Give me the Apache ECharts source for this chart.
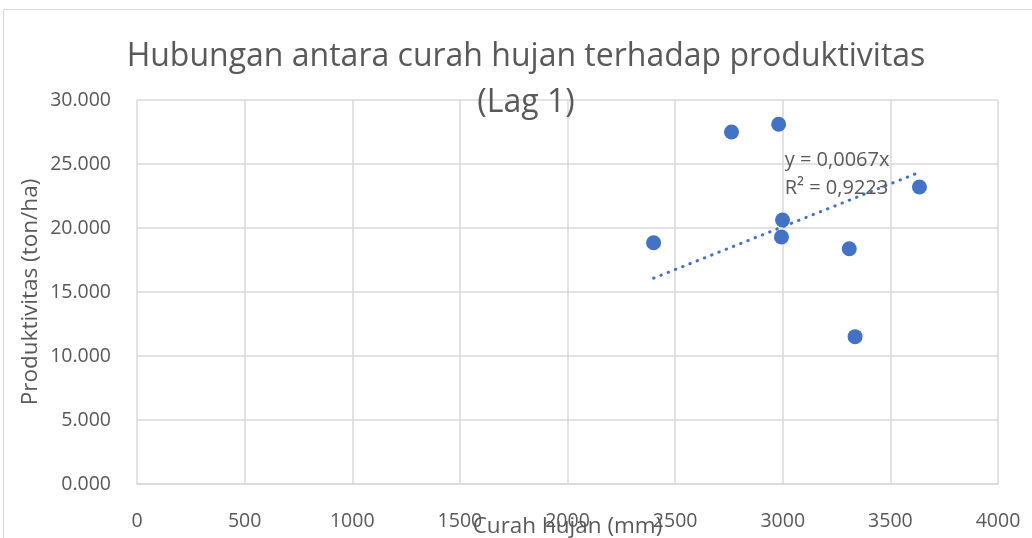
<!DOCTYPE html>
<html>
<head>
<meta charset="utf-8">
<script src="https://cdn.jsdelivr.net/npm/echarts@6/dist/echarts.min.js"></script>
<style>html,body{margin:0;padding:0;background:#fff;}#c{width:1032px;height:538px;}</style>
</head>
<body>
<div id="c"></div>
<script>
const titleLines = ['Hubungan antara curah hujan terhadap produktivitas', '(Lag 1)'];
const xName = 'Curah hujan (mm)';
const yName = 'Produktivitas (ton/ha)';
const rainfall = [2400, 2762, 2981, 2999, 2994, 3309, 3336, 3635];
const productivity = [18.85, 27.50, 28.10, 20.63, 19.30, 18.38, 11.51, 23.20];
const trendSlope = 0.0067;
const trendLabel = ['y = 0,0067x', 'R² = 0,9223'];
const xMin = 0, xMax = 4000, xStep = 500;
const yMin = 0, yMax = 30, yStep = 5;

const FONT = 'Open Sans';
const GRAY = '#595959';
const BLUE = '#4472C4';

const xs = rainfall.slice().sort((a,b)=>a-b);
const trendData = [[xs[0], trendSlope*xs[0]], [xs[xs.length-1], trendSlope*xs[xs.length-1]]];

const chart = echarts.init(document.getElementById('c'), null, {renderer:'canvas'});
const border = {type: 'rect', shape: {x: 3.5, y: 9.5, width: 1100, height: 600}, style: {fill: 'none', stroke: '#d9d9d9', lineWidth: 1}, z: -1};
const option = {
  animation: false,
  backgroundColor: '#fff',
  title: {
    text: titleLines.join('\n'),
    left: 521, top: 29, textAlign: 'center',
    textStyle: {fontFamily: FONT, fontSize: 32, fontWeight: 'normal', color: GRAY, lineHeight: 46}
  },
  grid: {left: 137, right: 34, top: 100, bottom: 54, containLabel: false, outerBoundsMode: 'none'},
  xAxis: {
    type: 'value', min: xMin, max: xMax, interval: xStep,
    name: xName, nameLocation: 'middle', nameGap: 31, nameMoveOverlap: false,
    nameTextStyle: {fontFamily: FONT, fontSize: 22.5, color: GRAY},
    axisLine: {show: true, lineStyle: {color: '#d9d9d9', width: 1.5}},
    axisTick: {show: false},
    axisLabel: {fontFamily: FONT, fontSize: 19.5, color: GRAY, margin: 27, formatter: v => String(v)},
    splitLine: {show: true, lineStyle: {color: '#d9d9d9', width: 1.5}}
  },
  yAxis: {
    type: 'value', min: yMin, max: yMax, interval: yStep,
    name: yName, nameLocation: 'middle', nameGap: 95, nameMoveOverlap: false,
    nameTextStyle: {fontFamily: FONT, fontSize: 22.5, color: GRAY},
    axisLine: {show: false},
    axisTick: {show: false},
    axisLabel: {fontFamily: FONT, fontSize: 19.5, color: GRAY, margin: 26,
      formatter: v => v.toFixed(3)},
    splitLine: {show: true, lineStyle: {color: '#d9d9d9', width: 1.5}}
  },
  series: [
    {
      type: 'line', data: trendData, symbol: 'none', silent: true, z: 3,
      lineStyle: {color: BLUE, width: 3, type: [0.5, 7.3], cap: 'round'}
    },
    {
      type: 'scatter', data: rainfall.map((x,i)=>[x, productivity[i]]),
      symbol: 'circle', symbolSize: 15, z: 4,
      itemStyle: {color: BLUE, opacity: 1}
    }
  ],
  graphic: [border]
};
chart.setOption(option);
const p = chart.convertToPixel({gridIndex: 0}, [3000, 25.4]);
chart.setOption({graphic: [
  border,
  {type: 'text', x: p[0] + 2, y: p[1] - 13, z: 10,
   style: {text: trendLabel.join('\n'), fontFamily: FONT, fontSize: 20, fill: GRAY, lineHeight: 28, textVerticalAlign: 'top'}}
]});
</script>
</body>
</html>
